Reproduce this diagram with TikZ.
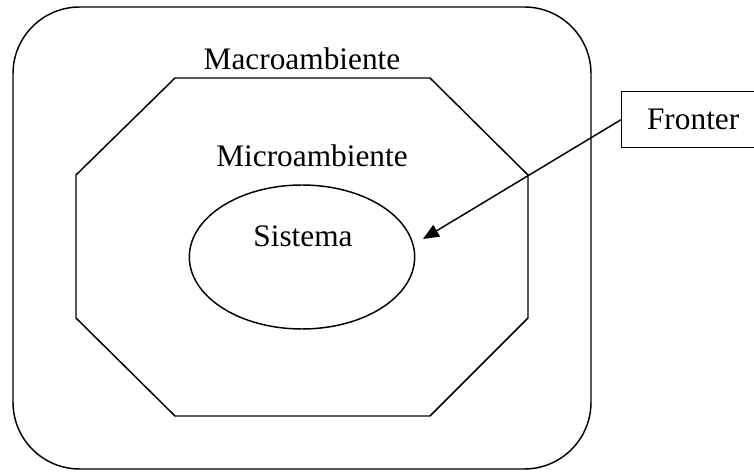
\documentclass[tikz,border=0pt]{standalone}
\usepackage{fontspec}
\setmainfont{Liberation Serif}
\usetikzlibrary{arrows.meta,shapes.geometric}

\begin{document}
\begin{tikzpicture}[x=0.75pt, y=-0.75pt, line width=1.1pt,
    txt/.style={font=\fontsize{23.5}{27}\selectfont, inner sep=0pt},
    frontier/.style={draw, txt, anchor=north west,
      minimum height=42pt, minimum width=160pt, inner xsep=19pt,
      text width=130pt, align=left}]

  \useasboundingbox (0,0) rectangle (754,473);

  % macroambiente
  \draw[rounded corners=50pt] (13,7) rectangle (591,469);
  \node[txt, anchor=base] (macro) at (302,70) {Macroambiente};

  % microambiente
  \draw (175,78) -- (430,78) -- (528,175) -- (528,318) -- (430,416)
    -- (175,416) -- (76,318) -- (76,175) -- cycle;
  \node[txt, anchor=base] (micro) at (312,167) {Microambiente};

  % sistema
  \node[draw, ellipse, inner sep=0pt, minimum width=169pt, minimum height=108pt]
    (sis) at (302,257) {};
  \node[txt, anchor=base] (sistxt) at (303,247) {Sistema};

  % frontera
  \node[frontier] (fr) at (621,91) {Fronter};
  \coordinate (tip) at (423,239);
  \draw[-{Triangle[length=12pt, width=10pt]}] (fr.west) -- (tip);

\end{tikzpicture}
\end{document}
